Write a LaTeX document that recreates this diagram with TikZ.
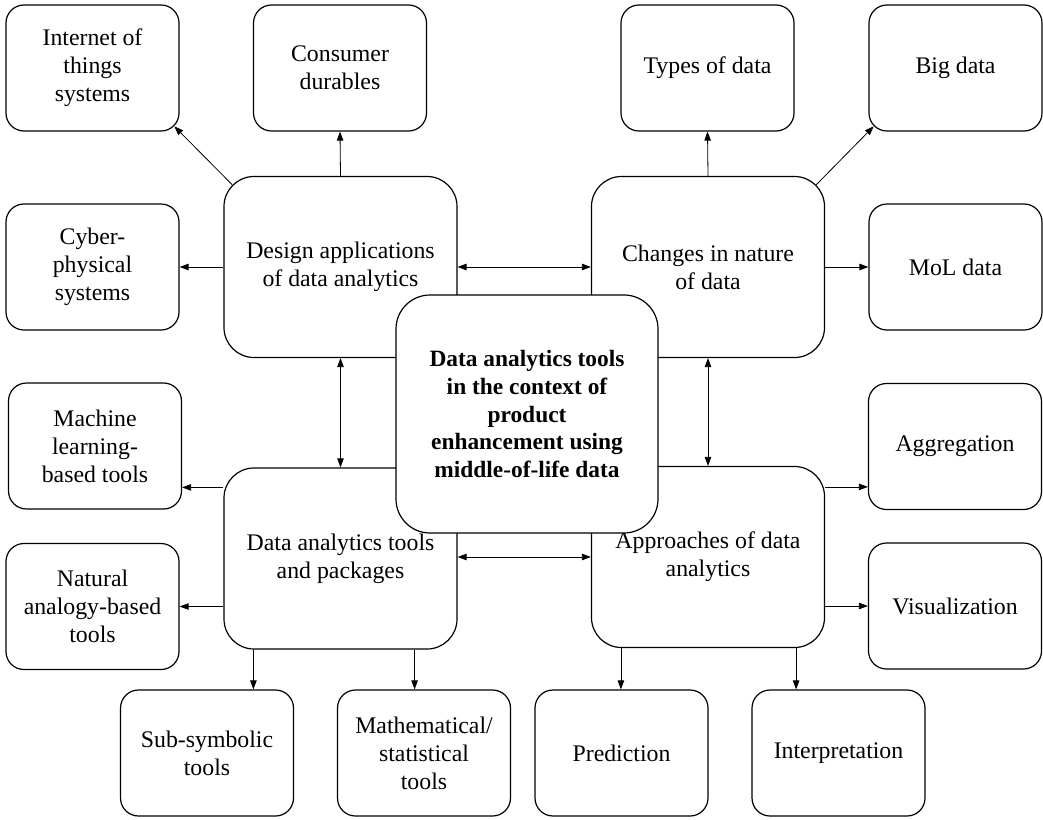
\documentclass[tikz,border=0pt]{standalone}
\usepackage{fontspec}
\setmainfont{Liberation Serif}
\usetikzlibrary{arrows.meta}
\begin{document}
\begin{tikzpicture}[x=1pt,y=1pt,
  every node/.style={font=\fontsize{23.8}{28}\selectfont, align=center, inner sep=0pt},
  leaf/.style={draw, line width=1.2pt, rounded corners=18pt, minimum width=173pt, minimum height=126pt},
  hub/.style={draw, line width=1.2pt, rounded corners=30pt, minimum width=233pt, minimum height=181pt},
  core/.style={draw, fill=white, line width=1.2pt, rounded corners=34pt, minimum width=262pt, minimum height=238pt,
    font=\fontsize{23.4}{27.7}\selectfont\bfseries},
  arr/.style={line width=0.8pt, -{Triangle[length=9pt,width=6.5pt]}},
  biarr/.style={line width=0.8pt, {Triangle[length=9pt,width=6.5pt]}-{Triangle[length=9pt,width=6.5pt]}}]
\useasboundingbox (0,0) rectangle (1043,-819);

% four main topic boxes
\node[hub] (design)  at (340.5,-267)   {Design applications\\of data analytics};
\node[hub] (changes) at (708,-267)     {Changes in nature\\of data};
\node[hub] (tools)   at (340.5,-558.5) {Data analytics tools\\and packages};
\node[hub] (approach) at (708,-557)    {Approaches of data\\analytics};

% leaf boxes
\node[leaf] (iot)      at (92.5,-68)   {Internet of\\things\\systems};
\node[leaf] (consumer) at (340,-68)    {Consumer\\durables};
\node[leaf] (types)    at (707.5,-68)  {Types of data};
\node[leaf] (big)      at (955.5,-68)  {Big data};
\node[leaf] (cyber)    at (92.5,-267)  {Cyber-\\physical\\systems};
\node[leaf] (mol)      at (955.5,-267) {MoL data};
\node[leaf] (ml)       at (95,-446)    {Machine\\learning-\\based tools};
\node[leaf] (agg)      at (955,-446.5) {Aggregation};
\node[leaf] (natural)  at (92.5,-606.5) {Natural\\analogy-based\\tools};
\node[leaf] (vis)      at (955,-606)   {Visualization};
\node[leaf] (sub)      at (207,-753)   {Sub-symbolic\\tools};
\node[leaf] (math)     at (424,-753)   {Mathematical/\\statistical\\tools};
\node[leaf] (pred)     at (621.5,-753) {Prediction};
\node[leaf] (interp)   at (838.5,-753) {Interpretation};

% connector start points on the hub borders
\coordinate (iotout) at ([shift={(8.8,-8.8)}]design.north west);
\coordinate (iotin)  at ([shift={(-5.3,5.3)}]iot.south east);
\coordinate (bigout) at ([shift={(-8.8,-8.8)}]changes.north east);
\coordinate (bigin)  at ([shift={(5.3,5.3)}]big.south west);
\coordinate (mlout)  at ([yshift=-20]tools.north west);
\coordinate (aggout) at ([yshift=-21]approach.north east);
\coordinate (subout) at ([xshift=30]tools.south west);
\coordinate (mathout) at ([xshift=-43]tools.south east);
\coordinate (predout) at ([xshift=30]approach.south west);
\coordinate (intout) at ([xshift=-29]approach.south east);

% outgoing arrows
\draw[arr] (iotout) -- (iotin);
\draw[arr] (design.north) -- (consumer.south);
\draw[arr] (design.west) -- (cyber.east);
\draw[arr] (changes.north) -- (types.south);
\draw[arr] (bigout) -- (bigin);
\draw[arr] (changes.east) -- (mol.west);
\draw[arr] (mlout) -- (mlout -| ml.east);
\draw[arr] (tools.west |- natural.east) -- (natural.east);
\draw[arr] (subout) -- (subout |- sub.north);
\draw[arr] (mathout) -- (mathout |- math.north);
\draw[arr] (aggout) -- (aggout -| agg.west);
\draw[arr] (approach.east |- vis.west) -- (vis.west);
\draw[arr] (predout) -- (predout |- pred.north);
\draw[arr] (intout) -- (intout |- interp.north);

% links between the hubs
\draw[biarr] (design.east) -- (changes.west);
\draw[biarr] (design.south) -- (tools.north);
\draw[biarr] (changes.south) -- (approach.north);
\draw[biarr] (approach.west -| tools.east) -- (approach.west);

% central topic on top
\node[core] (center) at (527,-414) {Data analytics tools\\in the context of\\product\\enhancement using\\middle-of-life data};
\end{tikzpicture}
\end{document}
